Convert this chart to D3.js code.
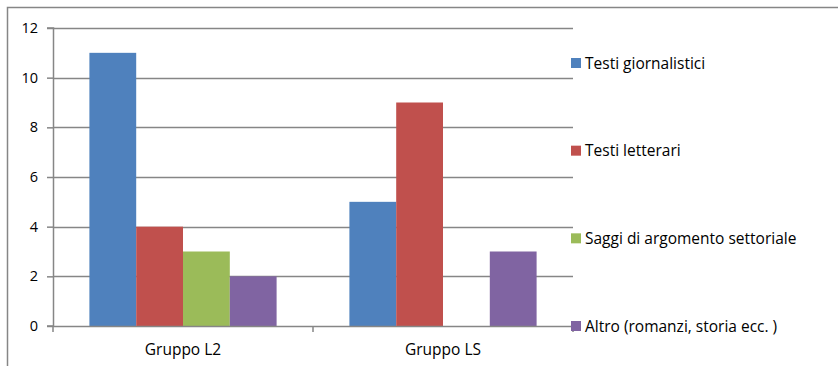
<!DOCTYPE html>
<html>
<head>
<meta charset="utf-8">
<script src="https://cdn.jsdelivr.net/npm/d3@7"></script>
<style>
  body { margin: 0; background: #fff; }
  svg text { font-family: "Open Sans", sans-serif; fill: #000; }
</style>
</head>
<body>
<div id="chart"></div>
<script>
// data
let groups = ["Gruppo L2", "Gruppo LS"];
let seriesNames = ["Testi giornalistici", "Testi letterari", "Saggi di argomento settoriale", "Altro (romanzi, storia ecc. )"];
let seriesColors = ["#4f81bd", "#c0504d", "#9bbb59", "#8064a2"];
let testiGiornalistici = [11, 5];
let testiLetterari = [4, 9];
let saggiSettoriali = [3, 0];
let altro = [2, 3];
let yTicks = [0, 2, 4, 6, 8, 10, 12];

let seriesValues = [testiGiornalistici, testiLetterari, saggiSettoriali, altro];

let W = 838, H = 366;
let margin = {top: 28, right: 265, bottom: 40, left: 53},
    width = W - margin.left - margin.right,
    height = H - margin.top - margin.bottom;

let svg = d3.select("#chart")
    .append("svg")
    .attr("width", W)
    .attr("height", H);

// outer frame (top and left visible)
svg.append("path")
    .attr("d", "M7.5,366 V7.5 H838")
    .attr("fill", "none")
    .attr("stroke", "#868686")
    .attr("stroke-width", 1.5);

let g = svg.append("g")
    .attr("transform", `translate(${margin.left}, ${margin.top})`);

let x0 = d3.scaleBand()
    .domain(groups)
    .range([0, width])
    .paddingInner(0.28)
    .paddingOuter(0.14);

let x1 = d3.scaleBand()
    .domain(d3.range(seriesNames.length))
    .range([0, x0.bandwidth()]);

let y = d3.scaleLinear()
    .domain([0, 12])
    .range([height, 0]);

// gridlines
g.selectAll(".grid")
    .data(yTicks.filter(d => d > 0))
    .enter()
    .append("line")
    .attr("x1", 0)
    .attr("x2", width)
    .attr("y1", d => Math.round(y(d)) + 0.5)
    .attr("y2", d => Math.round(y(d)) + 0.5)
    .attr("stroke", "#868686")
    .attr("stroke-width", 1.5);

// bars
let barData = [];
groups.forEach((grp, gi) => {
    seriesValues.forEach((vals, si) => {
        barData.push({group: grp, series: si, value: vals[gi]});
    });
});

g.selectAll(".bar")
    .data(barData.filter(d => d.value > 0))
    .enter()
    .append("rect")
    .attr("x", d => x0(d.group) + x1(d.series))
    .attr("y", d => y(d.value))
    .attr("width", x1.bandwidth())
    .attr("height", d => height - y(d.value))
    .attr("fill", d => seriesColors[d.series]);

// y axis
let yAxis = g.append("g")
    .call(d3.axisLeft(y).tickValues(yTicks).tickSize(6).tickPadding(9).tickFormat(d3.format("d")));
yAxis.select(".domain").attr("stroke", "#868686").attr("stroke-width", 1.5).attr("d", `M-6,${height}H0.5V0H-6`);
yAxis.selectAll(".tick line").attr("stroke", "#868686").attr("stroke-width", 1.5);
yAxis.selectAll("text").style("font-size", "14.5px");

// x axis
let xAxisG = g.append("g")
    .attr("transform", `translate(0, ${height})`);
xAxisG.append("line")
    .attr("x1", 0).attr("x2", width)
    .attr("y1", 0.5).attr("y2", 0.5)
    .attr("stroke", "#868686")
    .attr("stroke-width", 1.5);
xAxisG.selectAll(".xtick")
    .data([0, width / 2, width])
    .enter()
    .append("line")
    .attr("x1", d => d).attr("x2", d => d)
    .attr("y1", 0).attr("y2", 6)
    .attr("stroke", "#868686")
    .attr("stroke-width", 1.5);
xAxisG.selectAll(".xlabel")
    .data(groups)
    .enter()
    .append("text")
    .attr("x", d => x0(d) + x0.bandwidth() / 2)
    .attr("y", 29)
    .attr("text-anchor", "middle")
    .style("font-size", "15.5px")
    .text(d => d);

// legend
let legendY = d3.scalePoint()
    .domain(seriesNames)
    .range([63, 326]);

let legend = svg.selectAll(".legend")
    .data(seriesNames)
    .enter()
    .append("g")
    .attr("transform", d => `translate(571, ${legendY(d)})`);
legend.append("rect")
    .attr("x", 0).attr("y", -5)
    .attr("width", 10).attr("height", 10)
    .attr("fill", (d, i) => seriesColors[i]);
legend.append("text")
    .attr("x", 14)
    .attr("y", 5.5)
    .style("font-size", "15.5px")
    .text(d => d);
</script>
</body>
</html>
